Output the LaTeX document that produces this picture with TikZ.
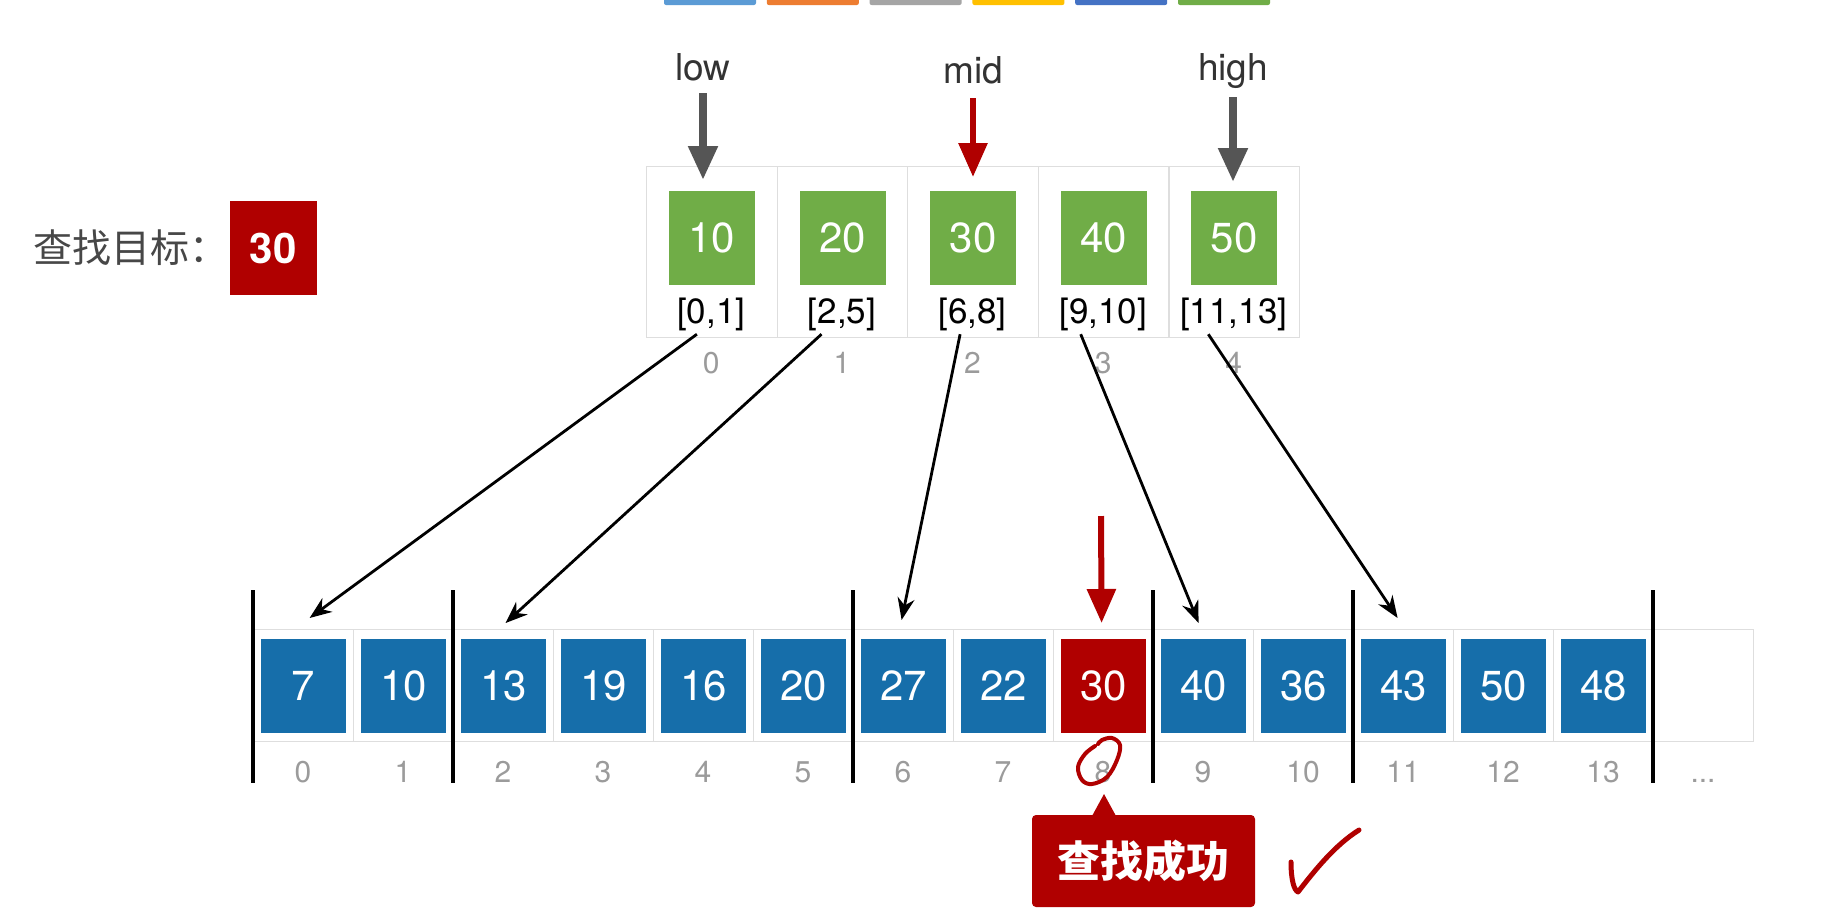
\documentclass[tikz,border=0pt]{standalone}
\usepackage{fontspec}
\setmainfont{TeX Gyre Heros}
\newfontfamily\cjk{Noto Sans CJK SC}
\usetikzlibrary{
  positioning,
  arrows.meta
}
\definecolor{cellgreen}{RGB}{112,173,71}
\definecolor{cellblue}{RGB}{22,110,170}
\definecolor{hitred}{RGB}{176,0,0}
\definecolor{ptrgray}{RGB}{85,85,85}
\definecolor{idxgray}{RGB}{155,155,155}
\definecolor{gridgray}{RGB}{222,222,222}
\definecolor{barblue}{RGB}{91,155,213}
\definecolor{barorange}{RGB}{237,125,49}
\definecolor{bargray}{RGB}{165,165,165}
\definecolor{baryellow}{RGB}{255,192,0}
\definecolor{bardarkblue}{RGB}{68,114,196}
\definecolor{bargreen}{RGB}{112,173,71}
\tikzset{
  every node/.style={inner sep=0pt},
  topcell/.style={draw=gridgray, line width=1.2pt, anchor=north west,
    minimum width=130.6pt, minimum height=171pt},
  botcell/.style={draw=gridgray, line width=1.2pt, anchor=north west,
    minimum width=100pt, minimum height=112pt},
  valbox/.style={minimum width=86pt, minimum height=94pt, text=white,
    font=\fontsize{42}{48}\selectfont},
  rnglabel/.style={anchor=base, font=\fontsize{35}{40}\selectfont},
  idxlabel/.style={anchor=base, text=idxgray, font=\fontsize{30}{34}\selectfont},
  ptrlabel/.style={anchor=base, text=black!80, font=\fontsize{37}{42}\selectfont},
  ptrarrow/.style={line width=8pt, -{Triangle[width=28pt,length=34pt]}},
  link/.style={line width=2.8pt, -{Stealth[length=22pt,width=17pt]}},
  divider/.style={line width=3.5pt},
  callout/.style={fill=hitred, rounded corners=4pt, minimum width=223pt,
    minimum height=92pt, text=white, font=\cjk\bfseries\fontsize{43}{48}\selectfont},
  pen/.style={draw=hitred, line width=4pt, line cap=round, line join=round}
}

\begin{document}
\begin{tikzpicture}[x=1pt, y=-1pt]
  \useasboundingbox[fill=white] (0,0) rectangle (1830,922);
  \foreach \c [count=\i from 0] in {barblue,barorange,bargray,baryellow,bardarkblue,bargreen}
    \fill[\c, rounded corners=2pt] ({664+102.8*\i},-4) rectangle ++(92,9);

  \node[anchor=west, text=black!72, font=\cjk\fontsize{39}{44}\selectfont] (goal) at (33,248) {查找目标：};
  \node[valbox, fill=hitred, minimum width=87pt, font=\bfseries\fontsize{42}{48}\selectfont, right=1pt of goal] (target) {30};

  \foreach \val/\rng [count=\i from 0] in {10/{[0,1]}, 20/{[2,5]}, 30/{[6,8]}, 40/{[9,10]}, 50/{[11,13]}} {
    \node[topcell] (t\i) at ({646+130.6*\i},166) {};
    \node[valbox, fill=cellgreen, below=25pt of t\i.north] (g\i) {\val};
    \node[rnglabel] (r\i) at ({711.3+130.6*\i},323) {\rng};
    \node[idxlabel] (ti\i) at ({711.3+130.6*\i},373) {\i};
  }

  \node[ptrlabel] (low) at (703,80) {low};
  \node[ptrlabel] (mid) at (973,83) {mid};
  \node[ptrlabel] (high) at (1233,80) {high};
  \draw[ptrarrow, draw=ptrgray, shorten <=13pt, shorten >=-14pt] (low.base) -- (low.base |- t0.north);
  \draw[ptrarrow, draw=hitred, line width=6pt, shorten <=15pt, shorten >=-11pt] (mid.base) -- (mid.base |- t2.north);
  \draw[ptrarrow, draw=ptrgray, shorten <=17pt, shorten >=-16pt] (high.base) -- (high.base |- t4.north);

  \foreach \val/\c [count=\i from 0] in {7/cellblue, 10/cellblue, 13/cellblue, 19/cellblue, 16/cellblue,
      20/cellblue, 27/cellblue, 22/cellblue, 30/hitred, 40/cellblue, 36/cellblue, 43/cellblue,
      50/cellblue, 48/cellblue} {
    \node[botcell] (b\i) at ({253+100*\i},629) {};
    \node[valbox, fill=\c, minimum width=85pt] (v\i) at (b\i) {\val};
    \node[idxlabel] (i\i) at ({303+100*\i},782) {\i};
  }
  \node[botcell] (b14) at (1653,629) {};
  \node[idxlabel] (more) at (1703,782) {...};
  \foreach \k in {0,2,6,9,11,14}
    \draw[divider] ([yshift=39pt]b\k.north west) -- ([yshift=-41pt]b\k.south west);

  \foreach \s/\e/\dx/\ex/\ey in {0/0/-15/6/11, 1/2/-21/2/6, 2/6/-13/-2/9, 3/9/-23/-5/6, 4/11/-26/-6/11}
    \draw[link] ([xshift=\dx, yshift=4]t\s.south) -- ([xshift=\ex, yshift=\ey]b\e.north);

  \coordinate (hitptr) at (1101,516);
  \draw[ptrarrow, draw=hitred, line width=6pt] (hitptr) -- ([xshift=-2, yshift=6]b8.north);

  \draw[pen] plot[smooth, tension=0.6] coordinates {(1095,746) (1085,754) (1078,767) (1082,780)
    (1092,784) (1107,777) (1117,760) (1120,745) (1112,738) (1102,740) (1098,744)};

  \node[callout] (found) at (1143.5,861) {查找成功};
  \coordinate (tip) at (1104,794);
  \fill[hitred] (tip) -- ++(-12,22) -- ++(24,0) -- cycle;

  \draw[pen, line width=5pt] (1291,862) .. controls (1291,880) and (1294,890) .. (1298,892)
    .. controls (1315,870) and (1335,845) .. (1359,830);
\end{tikzpicture}
\end{document}
